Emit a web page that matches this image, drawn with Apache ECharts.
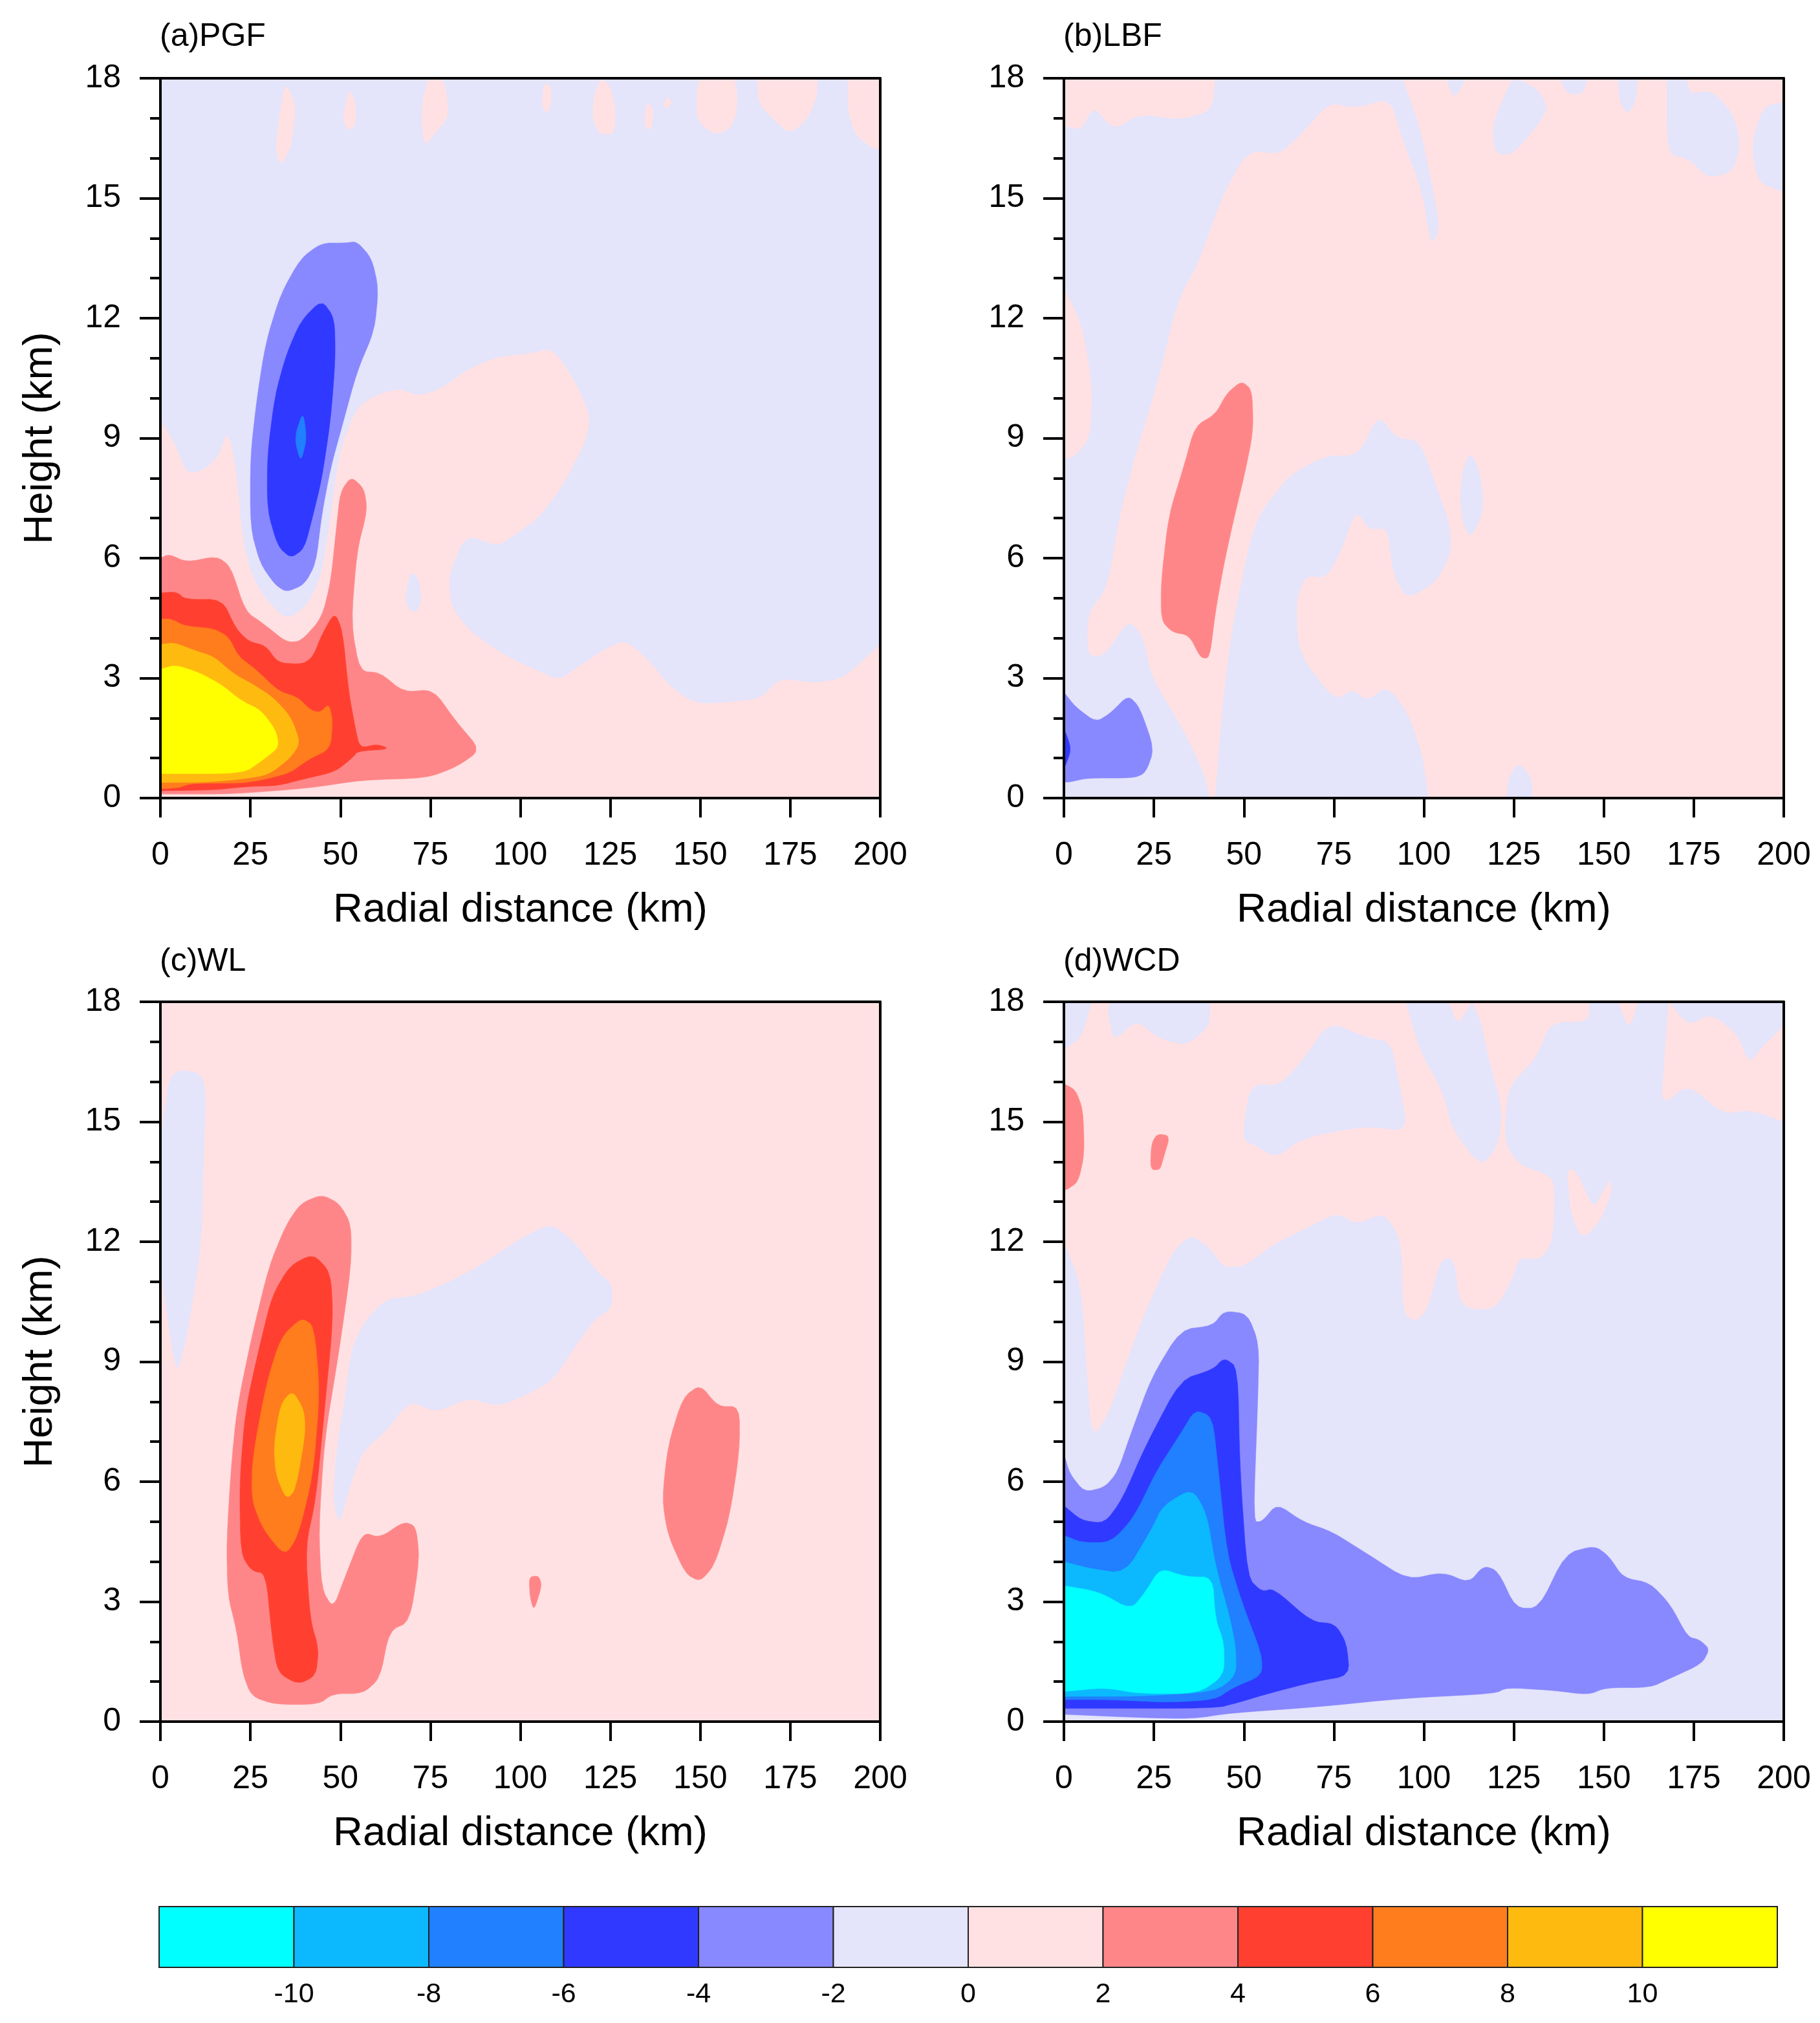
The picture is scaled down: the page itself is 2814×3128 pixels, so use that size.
<!DOCTYPE html>
<html>
<head>
<meta charset="utf-8">
<style>html,body{margin:0;padding:0;background:#fff}#c{width:2814px;height:3128px}</style>
<script src="https://cdn.jsdelivr.net/npm/echarts@6/dist/echarts.min.js"></script>
</head>
<body>
<div id="c"></div>
<script>
// Colour classes of the filled contours (edges in the data unit)
const bandEdges = [-12,-10,-8,-6,-4,-2,0,2,4,6,8,10,12];
const bandColors = ['#00FFFF','#0CB9FF','#2080FF','#3039FF','#8888FF','#E4E4FB','#FFE1E3','#FF8688','#FF4030','#FF7D1C','#FFBA10','#FFFF00'];
const xTicks = [0,25,50,75,100,125,150,175,200];
const yTicks = [0,3,6,9,12,15,18];
const panelNames = ['(a)PGF','(b)LBF','(c)WL','(d)WCD'];

// Each region: [band index, [km, km-height, km, km-height, ...]], painted in order
const regionsPGF = [
 [5,[0,0,200,0,200,18,0,18]],
 [6,[0,0,200,0,200,3.85,190,3,181.7,2.87,172,3,167,2.5,159,2.4,149,2.35,142.6,2.7,134.5,3.55,129,3.95,123,3.7,115.7,3.25,110.8,2.95,105,3.17,95,3.6,85.6,4.2,80.7,4.8,80,5.57,84.8,6.6,93.7,6.3,98.6,6.6,105,7,111.7,7.8,118,8.9,119.5,9.5,115.7,10.35,109,11.25,102,11.1,93.7,11.03,85.6,10.73,77.4,10.2,71.7,10.06,66,10.24,59.5,10.06,54.6,9.76,50.5,8.86,48.9,8.1,47.3,7.07,44.8,5.57,40.7,4.8,35,4.45,29.3,4.97,25.3,5.57,22.8,6.47,21,8.26,18.7,9.2,16.3,8.56,12.2,8.2,7.3,8.1,4,8.86,0,9.46]],
 [5,[68,5,69,5.5,70.2,5.65,72,5.4,72.5,4.9,71,4.65,69,4.7]],
 [6,[33.5,15.8,36.3,16.3,37.3,17,37.3,17.4,35,17.85,34,17.6,33,17,32,16.2]],
 [6,[50.7,17,52,16.7,54,16.8,54.5,17.2,53,17.75,51.5,17.4]],
 [6,[72.5,16.9,73.5,16.3,76,16.6,80,17,79.5,17.7,78,18,74.5,18,73,17.5]],
 [6,[106,17.3,107.5,17.1,108.5,17.4,108.3,17.85,106.5,17.85]],
 [6,[120,17,122,16.6,126,16.6,126.5,17.2,125,17.8,122.5,18,120.5,17.6]],
 [6,[134.5,16.8,136.5,16.7,137,17.2,135.5,17.4,134.7,17.2]],
 [6,[139.5,17.3,141,17.25,142,17.4,141,17.55]],
 [6,[149,17,152,16.7,155,16.6,159,16.8,160.5,17.4,159.5,18,150,18,149,17.7]],
 [6,[166,17.4,170,17,175,16.6,180,17,182.5,17.6,182.5,18,166,18]],
 [6,[191,17.2,193,16.6,197,16.3,200,16.2,200,18,191,18]],
 [7,[0,0.1,2.4,0.1,20,0.1,41.5,0.25,56,0.45,74,0.5,82.3,0.78,89,1.2,82.3,1.9,75.8,2.72,67.6,2.65,61,3.14,55.4,3.17,53,4.37,54.6,6.17,57.5,7.2,56.6,7.74,53,8.04,50,7.66,48.9,6.77,47.3,5.4,44.8,4.5,39,3.92,35,3.9,28.5,4.37,23.6,4.67,19.5,5.8,15.5,6.05,7.3,5.9,2.4,6.1,0,6]],
 [8,[0,0.18,14.8,0.2,24.4,0.29,32.7,0.31,39.6,0.47,48.6,0.66,53.4,1.01,54.8,1.17,63.7,1.23,60.3,1.35,55.4,1.25,54,1.82,52.3,2.68,50.6,4.19,48.4,4.65,44.8,4.08,42.4,3.54,39.6,3.35,32.7,3.38,29.3,3.81,24.5,3.92,21,4.24,17.2,4.97,6.9,4.97,4.5,5.16,0,5.13]],
 [9,[0,0.23,5.2,0.26,8.6,0.37,22.4,0.37,29.3,0.47,36.2,0.64,41,0.96,47.2,1.23,47.9,1.93,46.8,2.36,44.4,2.14,41.7,2.2,38.2,2.52,32.7,2.68,26.5,3.22,21.7,3.54,19,4.03,14.8,4.24,6.9,4.3,3,4.48,0,4.48]],
 [10,[0,0.39,12,0.39,22.4,0.47,30,0.58,36.2,1.01,38.9,1.39,36.2,2.04,31.3,2.52,25.8,2.84,20.3,3.11,14.8,3.54,9.3,3.7,3.8,3.89,0,3.84]],
 [11,[0,0.61,23,0.61,28.6,0.96,33,1.28,32,1.71,27.9,2.2,22.4,2.44,16.9,2.84,10.7,3.14,4.1,3.33,0,3.22]],
 [4,[35,5.15,40,5.34,43.2,5.87,44.8,7.07,47.3,8.26,50.5,9.31,54.6,10.66,59.5,11.7,60.6,12.75,58.7,13.5,54.6,13.92,51.3,13.88,44.8,13.88,39,13.5,33.4,12.6,29.3,11.4,26.9,10.06,25,8.56,25,6.77,27.7,5.87,31.8,5.34]],
 [3,[36.2,6,40,6.24,42.4,7.07,44.8,7.96,47.3,9.46,48.6,10.96,48.4,12,44.8,12.46,39,11.93,35,11.1,31.8,10.06,29.7,8.56,29.7,7.2,32.6,6.3]],
 [2,[39,8.38,40.7,9,39.6,9.68,37.2,9]]
];
const regionsLBF = [
 [6,[0,0,200,0,200,18,0,18]],
 [5,[0,16.8,4.9,16.7,8.1,17.3,13.8,16.7,21,17.1,32.4,16.95,41.3,17.2,42,18,94,18,98.8,16.8,102,15.45,104.5,14.25,102,13.8,99.6,15.15,94,16.5,90.7,17.5,81,17.25,73.7,17.4,66.4,16.65,60,16.1,51,16.2,43.7,15,37.2,13.35,31.6,12.45,25.9,10.36,20.2,8.7,15.4,7.07,12.1,5.27,6.5,4.6,6.5,3.55,11.3,3.55,17.8,4.45,21.9,4.07,24.3,3.02,32.4,1.83,38.9,0.63,40.5,0,0,0]],
 [6,[0,12.75,4.9,11.86,7.8,10.36,7.3,9,2.4,8.5,0,8.5]],
 [4,[0,2.65,3.2,2.28,8.9,1.9,13,2.13,17.8,2.57,21,2.28,25.1,1.23,22.7,0.63,19.4,0.5,6.5,0.5,1.6,0.4,0,0.4]],
 [3,[0,1.75,2.1,1.23,0.3,0.78,0,0.8]],
 [7,[38,3.5,40.5,3.5,42.1,4.67,44.5,5.87,47,6.9,50.2,8.1,52.6,9.16,52.3,10.2,49.4,10.43,45.3,10.13,42.1,9.6,36.4,9.3,33.2,8.26,29.1,7.07,27,5.42,27,4.45,30,4.15,34.8,4.07]],
 [5,[42,0,44.5,2.72,47,4.37,51.8,6.47,55,7.2,63,8.1,72.9,8.56,81.8,8.56,87.4,9.6,92.3,9,98.8,8.94,102.8,7.96,107,6.9,107.7,6.17,103.6,5.42,95.5,4.97,91.5,5.57,89.9,6.77,85,6.7,81,7.2,77,6.17,72.9,5.5,67.2,5.57,64.5,4.97,65.1,3.62,75.3,2.43,80.2,2.72,84.2,2.43,89.9,2.8,95.5,2.13,99.6,1.08,101.2,0]],
 [5,[110,7.5,111,8.3,113,8.64,115.5,8.2,116.6,7.4,115.5,6.9,113,6.54,111,6.8]],
 [5,[123,0,123.5,0.5,126.3,0.9,130,0.5,130,0]],
 [5,[106,18,111.7,18,108.5,17.47]],
 [5,[124.7,18,122.3,17.55,119,16.8,119.8,16.1,124.7,16.1,132,16.87,134.4,17.25,132,17.7,127,17.95]],
 [5,[137.6,18,145.7,18,144,17.6,140,17.6]],
 [5,[153.8,18,159.5,18,158.8,17.4,156.5,17.1,154.5,17.4]],
 [5,[167.6,18,173,18,174,17.6,180,17.7,186,17.1,187.9,16.35,186,15.67,179,15.5,173.4,16,167.6,16.1]],
 [5,[200,17.4,194.3,17.3,191,16.35,192.8,15.4,200,15.15]]
];
const regionsWL = [
 [6,[0,0,200,0,200,18,0,18]],
 [5,[0.8,15,2.4,16.1,5.7,16.3,11.4,16.2,12.6,15.7,11.9,13.8,11.4,12,8.1,10,4.9,8.7,3.3,9.3,0.8,10.8,0,11.4,0,14.7]],
 [5,[49.7,4.9,53,6,56.2,6.76,62.8,7.28,69.3,8.03,76.6,7.73,85.6,8.1,93.7,7.88,101.9,8.18,109.2,8.55,115.7,9.45,120.6,10.05,125.5,10.35,125.5,10.94,121.4,11.24,114.9,12,108.4,12.47,98.6,12,88.8,11.4,79,10.94,70.9,10.64,62.8,10.57,57,10.05,53,9.3,51.3,8.1,48.9,6.76,48,5.56]],
 [7,[25.3,0.63,31.8,0.43,44,0.43,48,0.7,56.2,0.7,61,1.08,63.6,2.27,69.3,2.5,72,4.07,71,4.89,67.6,5,61,4.6,56.2,4.74,51.3,3.62,48,2.83,44.8,3.32,44,4.81,45.6,7.06,49.7,9.3,53,11.4,53,12.44,49.7,12.96,44.8,13.18,39,12.96,35,12.44,30.2,11.4,25.3,9.6,21.2,7.8,19.6,6.3,18.4,4.5,18.7,3.17,21.2,2.27,22.8,1.22]],
 [8,[38.3,0.93,43.2,1.15,44,1.82,41.6,2.57,40.3,4.37,43.2,5.56,45.6,7.8,48,10.05,47.3,11.24,42.4,11.7,35.9,11.4,31,10.64,27.7,9.45,23.6,7.8,22,6,22.3,4.2,25.3,3.77,29.3,3.7,31,2.12,32.6,1.22]],
 [9,[34.6,4.14,38.3,4.66,42.4,6.16,44.3,8.25,42.7,9.9,39.1,10.1,33.4,9.6,29.3,8.4,25.6,6.6,25.3,5.56,28.5,4.81]],
 [10,[35,5.56,37.5,5.78,40.3,7.2,39.9,7.8,36.7,8.28,33.4,7.95,31.5,6.9,32.1,6.16]],
 [7,[150,3.5,154,3.92,158.1,5.11,160.9,6.76,160.9,7.88,154.9,7.88,150,8.43,145.1,8.1,141,6.9,139.4,5.56,141,4.66,145.9,3.69]],
 [7,[102.4,3.62,105.1,3.65,106,3.4,103.8,2.77,102.7,3.1]]
];
const regionsWCD = [
 [5,[0,0,200,0,200,18,0,18]],
 [6,[0,16.8,4.9,17.1,7.8,18,146,18,145.7,17.5,135.2,17.5,131.2,16.6,124.7,16,123,15.6,122.3,14.5,126.3,13.93,133.6,13.7,136.3,13.5,136,12.1,132.8,11.57,126.3,11.6,124.7,11.1,119.8,10.3,110.1,10.35,108.5,11.6,104.5,11.55,101.2,10.35,97.9,10,94.2,10.2,93.9,12,89.1,12.74,81,12.43,76.1,12.74,66.4,12.3,57.5,11.9,50.2,11.39,44.5,11.36,40.5,11.84,35.6,12.17,30.8,11.84,25.9,10.94,21,9.9,16.2,8.7,12.1,7.65,7.8,7.1,6.5,8.6,4.9,10.9,0,12]],
 [6,[168,18,173.4,17.4,179.8,17.7,187,17.2,190.3,16.45,194.3,16.9,200,17.4,200,15,191,15.3,183,15.2,173.4,15.95,166,15.4,166.8,16.5]],
 [5,[13,18,40.5,18,40.5,17.4,34,16.9,26,17.1,20.2,17.55,13.8,17,12.1,17.8]],
 [5,[49.4,14.55,51.8,15.95,59.9,15.9,66.4,16.55,73.7,17.5,84.2,17.1,90.7,17,93.1,16,95.5,14.75,84.2,14.9,66.4,14.6,59,14.1,53.4,14.4]],
 [5,[95,18,98.8,16.8,105.3,15.75,107.7,14.85,115.8,13.87,120.6,14.4,121.8,15.3,118.2,16.5,115.8,17.5,113.4,18,109.3,17.4,106.9,18]],
 [6,[139.8,13.85,142.5,13.75,147.1,12.8,150.3,13.35,152,13.55,152,13.2,148.8,12.5,144,12.05,140.7,12.75]],
 [6,[154,18,159.5,18,157,17.3]],
 [7,[0,15.95,3.2,15.8,5.3,15.3,5.7,14.2,4,13.5,0.8,13.3,0,13.3]],
 [7,[24.3,14.45,25.9,14.7,29.5,14.65,27.5,14.05,26.7,13.8,24,13.8]],
 [4,[0,6.7,1.6,6.2,5.7,5.74,11.3,5.86,14.9,6.24,18.6,7.2,24.3,8.6,32.4,9.8,41.3,9.9,44.5,10.27,51,10.2,54.2,9.45,53.9,8.1,52.6,5,55,5,59.2,5.45,66.4,5,74.5,4.75,84.2,4.2,95.5,3.55,105.3,3.74,112.5,3.47,116.6,3.9,120.6,3.77,125.5,2.84,132,2.84,139.3,4.2,147.4,4.4,151.4,4.14,155.4,3.6,162.8,3.47,168.4,2.94,173.3,2.12,176.5,2.05,179.4,1.82,177.3,1.45,168.4,1.08,162.8,0.85,150.6,0.85,145.7,0.67,136,0.78,123,0.85,119.8,0.7,93.9,0.58,69.6,0.36,47,0.22,35.6,0.07,21,0.1,0,0.18]],
 [3,[0,5.4,4.9,5.03,11.3,4.96,16.2,5.56,22.7,6.9,32.4,8.55,41.3,8.8,44.5,9.1,48.3,8.85,48.9,6.3,51,3.6,55,3.25,58.3,3.33,68.8,2.5,75.3,2.45,78.5,1.97,79.4,1.15,69.6,1,56.7,0.7,48.6,0.48,42,0.33,0,0.33]],
 [2,[0,4.66,4.9,4.48,13,4.48,19.4,5.1,25.9,6.3,32.4,7.2,36.4,7.8,41.3,7.62,42.9,6.3,45.3,4.2,49.4,3,55,1.67,55,1.15,47,0.85,42,0.55,29,0.48,13,0.55,0,0.55]],
 [1,[0,4,6.5,3.84,17,3.7,24.3,4.8,27.5,5.4,35.6,5.83,39.7,5.2,42.1,3.9,46.2,2.57,47.8,1.82,47.8,1.15,42.1,0.75,21,0.63,0,0.63]],
 [0,[0,3.4,9.7,3.25,18.6,2.8,22.7,3.25,26.7,3.84,34,3.62,41.3,3.62,42.1,2.57,44.5,1.97,44.5,1.15,37.2,0.7,21,0.7,11.3,0.85,0,0.75]]
];
const panelRegions = [regionsPGF, regionsLBF, regionsWL, regionsWCD];

const FONT = 'Liberation Sans';
const panelBoxes = [
  {left:248, top:121, yName:true, titleTop:27},{left:1645, top:121, yName:false, titleTop:27},
  {left:248, top:1549, yName:true, titleTop:1457},{left:1645, top:1549, yName:false, titleTop:1457}
];
const PW = 1113, PH = 1113;

// Rounds polygon corners (in pixel space) so the outline reads as a contour; frame vertices stay put.
function roundCorners(pts, fixed, passes){
  const t=0.2;
  for(let p=0;p<passes;p++){
    const out=[], outFixed=[], n=pts.length;
    for(let i=0;i<n;i++){
      const c=pts[i];
      if(fixed[i]){out.push(c);outFixed.push(true);continue;}
      const a=pts[(i+n-1)%n], b=pts[(i+1)%n];
      out.push([c[0]+t*(a[0]-c[0]),c[1]+t*(a[1]-c[1])]);outFixed.push(false);
      out.push([c[0]+t*(b[0]-c[0]),c[1]+t*(b[1]-c[1])]);outFixed.push(false);
    }
    pts=out;fixed=outFixed;
  }
  return pts;
}

const grid=[], xAxis=[], yAxis=[], series=[], title=[];
const lineStyle={color:'#000',width:4};
panelBoxes.forEach((b,i)=>{
  grid.push({left:b.left,top:b.top,width:PW,height:PH});
  title.push({text:panelNames[i],left:b.left-6,top:b.titleTop,textStyle:{fontFamily:FONT,fontSize:50,fontWeight:'normal',color:'#000'}});
  xAxis.push({type:'value',gridIndex:i,min:xTicks[0],max:xTicks[xTicks.length-1],interval:25,position:'bottom',z:10,
    name:'Radial distance (km)',nameLocation:'middle',nameGap:141,
    nameTextStyle:{fontFamily:FONT,fontSize:63.5,color:'#000'},
    axisLine:{show:true,lineStyle,onZero:false},axisTick:{show:true,length:30,inside:false,lineStyle},
    axisLabel:{fontFamily:FONT,fontSize:50,color:'#000',margin:64,hideOverlap:false,showMinLabel:true,showMaxLabel:true},
    splitLine:{show:false}});
  xAxis.push({type:'value',gridIndex:i,min:0,max:200,position:'top',z:10,
    axisLine:{show:true,lineStyle,onZero:false},axisTick:{show:false},axisLabel:{show:false},splitLine:{show:false}});
  yAxis.push({type:'value',gridIndex:i,min:yTicks[0],max:yTicks[yTicks.length-1],interval:3,position:'left',z:10,
    name:b.yName?'Height (km)':'',nameLocation:'middle',nameGap:154,
    nameTextStyle:{fontFamily:FONT,fontSize:63.5,color:'#000'},
    axisLine:{show:true,lineStyle,onZero:false},axisTick:{show:true,length:32,inside:false,lineStyle},
    minorTick:{show:true,splitNumber:3,length:16,lineStyle},
    axisLabel:{fontFamily:FONT,fontSize:50,color:'#000',margin:61,showMinLabel:true,showMaxLabel:true},
    splitLine:{show:false},minorSplitLine:{show:false}});
  yAxis.push({type:'value',gridIndex:i,min:0,max:18,position:'right',z:10,
    axisLine:{show:true,lineStyle,onZero:false},axisTick:{show:false},axisLabel:{show:false},splitLine:{show:false}});
  const regs=panelRegions[i];
  series.push({
    type:'custom',coordinateSystem:'cartesian2d',xAxisIndex:i*2,yAxisIndex:i*2,silent:true,animation:false,z:2,
    clip:true,
    data:regs.map(r=>[r[1][0],r[1][1],r[0]]),
    encode:{x:0,y:1},
    renderItem:(params,api)=>{
      const r=regs[params.dataIndex], pts=[], fixed=[];
      for(let k=0;k<r[1].length;k+=2){
        const x=r[1][k], y=r[1][k+1];
        pts.push(api.coord([x,y]));
        fixed.push(x===0||x===200||y===0||y===18);
      }
      return {type:'polygon',shape:{points:roundCorners(pts,fixed,2)},style:{fill:bandColors[r[0]],stroke:bandColors[r[0]],lineWidth:0.5}};
    }
  });
});

// Colour bar
const cbIndex = panelBoxes.length;
grid.push({left:246,top:2948,width:2502,height:94});
xAxis.push({type:'value',gridIndex:cbIndex,min:bandEdges[0],max:bandEdges[bandEdges.length-1],interval:2,z:10,
  axisLine:{show:false},axisTick:{show:false},splitLine:{show:false},
  axisLabel:{fontFamily:FONT,fontSize:43,color:'#000',margin:21,
    formatter:v=>(v===bandEdges[0]||v===bandEdges[bandEdges.length-1])?'':String(v)}});
yAxis.push({type:'value',gridIndex:cbIndex,min:0,max:1,show:false});
series.push({
  type:'custom',coordinateSystem:'cartesian2d',
  xAxisIndex:panelBoxes.length*2,yAxisIndex:panelBoxes.length*2,silent:true,animation:false,
  data:bandColors.map((c,i)=>[bandEdges[i],bandEdges[i+1],i]),
  encode:{x:[0,1]},
  renderItem:(params,api)=>{
    const a=api.coord([api.value(0),0]), b=api.coord([api.value(1),1]);
    return {type:'rect',shape:{x:a[0],y:b[1],width:b[0]-a[0],height:a[1]-b[1]},
      style:{fill:bandColors[api.value(2)],stroke:'#222',lineWidth:2}};
  }
});

const chart=echarts.init(document.getElementById('c'),null,{renderer:'canvas'});
chart.setOption({animation:false,backgroundColor:'#fff',title,grid,xAxis,yAxis,series});
</script>
</body>
</html>
